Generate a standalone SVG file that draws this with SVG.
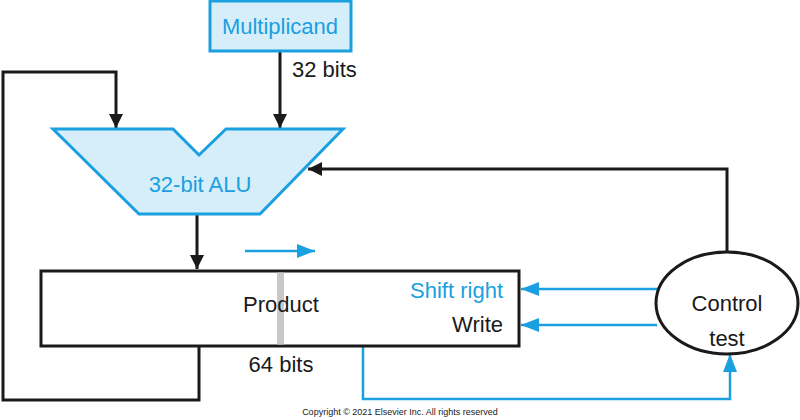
<svg xmlns="http://www.w3.org/2000/svg" width="800" height="420" viewBox="0 0 800 420">
<style>
text{font-family:"Liberation Sans",Arial,sans-serif;font-size:22px}
.blk{fill:none;stroke:#1a1a1a;stroke-width:3}
.blu{fill:none;stroke:#1a9fe0;stroke-width:2.5}
.bt{fill:#1a9fe0}
.kt{fill:#1a1a1a}
</style>
<defs>
<marker id="ak" markerUnits="userSpaceOnUse" markerWidth="14" markerHeight="16" viewBox="0 0 14 16" refX="14" refY="8" orient="auto"><path d="M0,1 L14,8 L0,15 Z" fill="#1a1a1a"/></marker>
<marker id="ab" markerUnits="userSpaceOnUse" markerWidth="18" markerHeight="16" viewBox="0 0 18 16" refX="18" refY="8" orient="auto"><path d="M0,1 L18,8 L0,15 Z" fill="#1a9fe0"/></marker>
</defs>
<rect width="800" height="420" fill="#fff"/>
<g id="connectors">
<path class="blk" d="M280,51 V128" marker-end="url(#ak)"/>
<path class="blk" d="M199,346 V400 H3 V72 H116 V128" marker-end="url(#ak)"/>
<path class="blk" d="M727,252 V169 H308" marker-end="url(#ak)"/>
<path class="blk" d="M197,214 V269" marker-end="url(#ak)"/>
<path class="blu" d="M657,289 H521" marker-end="url(#ab)"/>
<path class="blu" d="M657,325 H521" marker-end="url(#ab)"/>
<path class="blu" d="M363,346 V399 H730 V354" marker-end="url(#ab)"/>
<path class="blu" d="M245,251 H315" marker-end="url(#ab)"/>
</g>
<g id="multiplicand">
<rect x="210" y="1" width="141" height="50" fill="#d6eefa" stroke="#1a9fe0" stroke-width="3"/>
<text x="280" y="34" text-anchor="middle" class="bt">Multiplicand</text>
</g>
<text x="292" y="77" class="kt">32 bits</text>
<g id="alu">
<polygon points="53,129 173,129 199,155 226,129 343,129 260,214 139,214" fill="#d6eefa" stroke="#1a9fe0" stroke-width="3"/>
<text x="200" y="192" text-anchor="middle" class="bt">32-bit ALU</text>
</g>
<g id="product">
<rect x="41" y="271" width="478" height="75" fill="#fff" stroke="#1a1a1a" stroke-width="3"/>
<rect x="277" y="272.5" width="7" height="72" fill="#c8c8c8"/>
<text x="281" y="312" text-anchor="middle" class="kt">Product</text>
<text x="503" y="298" text-anchor="end" class="bt">Shift right</text>
<text x="503" y="332" text-anchor="end" class="kt">Write</text>
</g>
<text x="281" y="372" text-anchor="middle" class="kt">64 bits</text>
<g id="control">
<ellipse cx="727" cy="303" rx="71" ry="51" fill="#fff" stroke="#1a1a1a" stroke-width="3"/>
<text x="727" y="311" text-anchor="middle" class="kt">Control</text>
<text x="727" y="346" text-anchor="middle" class="kt">test</text>
</g>
<text x="400" y="415" text-anchor="middle" style="font-size:9px" class="kt">Copyright © 2021 Elsevier Inc. All rights reserved</text>
</svg>
